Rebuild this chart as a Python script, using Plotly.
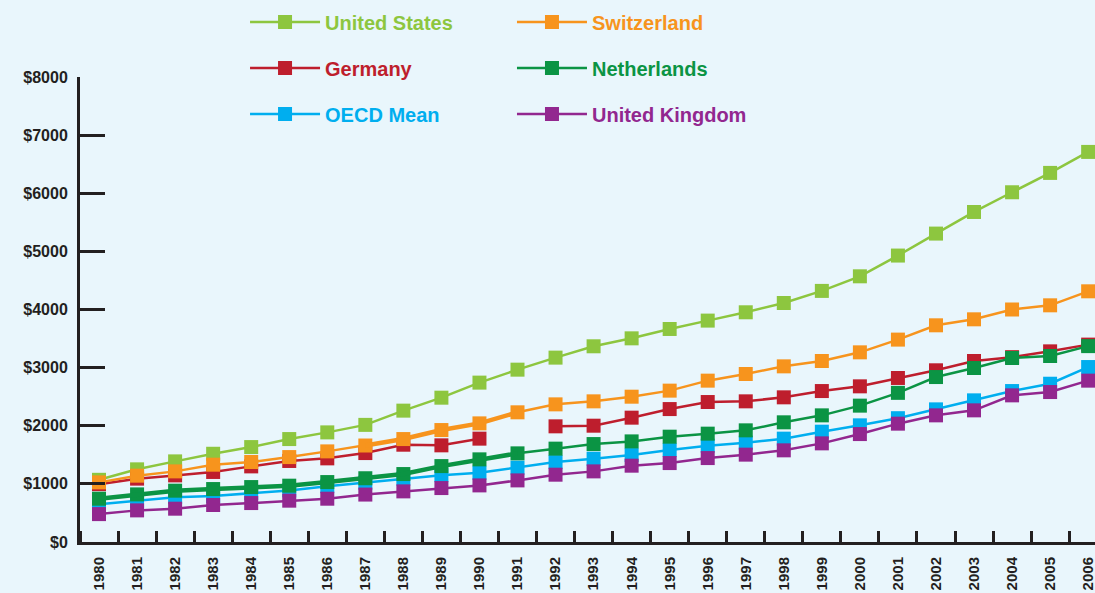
import plotly.graph_objects as go

years = list(range(1980, 2007))
year_labels = [str(y) for y in years]

us = [1070, 1250, 1387, 1518, 1633, 1771, 1886, 2015, 2260, 2483, 2742, 2965, 3172, 3367,
      3504, 3665, 3809, 3952, 4112, 4320, 4571, 4928, 5306, 5678, 6017, 6350, 6711]
switzerland = [1026, 1141, 1215, 1330, 1376, 1461, 1559, 1660, 1771, 1926, 2041, 2231, 2368, 2420,
               2500, 2604, 2776, 2890, 3022, 3114, 3263, 3482, 3728, 3831, 4000, 4072, 4313]
germany = [995, 1090, 1146, 1205, 1301, 1394, 1439, 1530, 1674, 1663, 1778, None, 1990, 2001,
           2139, 2287, 2408, 2420, 2489, 2597, 2678, 2822, 2954, 3114, 3180, 3280, 3396]
netherlands = [745, 819, 883, 911, 945, 969, 1031, 1097, 1169, 1306, 1422, 1525, 1606, 1685,
               1731, 1812, 1864, 1921, 2059, 2179, 2346, 2566, 2838, 2993, 3166, 3200, 3370]
oecd_mean = [650, 704, 770, 790, 842, 888, 960, 1020, 1090, 1150, 1190, 1279, 1375, 1433,
             1496, 1582, 1657, 1709, 1778, 1898, 2007, 2130, 2282, 2437, 2597, 2723, 3010]
uk = [480, 544, 573, 636, 670, 711, 745, 816, 871, 928, 974, 1060, 1158, 1215,
      1313, 1358, 1444, 1503, 1577, 1697, 1857, 2036, 2179, 2265, 2523, 2580, 2776]

y_ticks = [0, 1000, 2000, 3000, 4000, 5000, 6000, 7000, 8000]

# (name, values, colour, legend, rank) in drawing order
series = [
    ("United States", us, "#8dc63f", "legend", 1),
    ("Germany", germany, "#be1e2d", "legend", 2),
    ("Switzerland", switzerland, "#f7941d", "legend2", 4),
    ("OECD Mean", oecd_mean, "#00aeef", "legend", 3),
    ("Netherlands", netherlands, "#0b9444", "legend2", 5),
    ("United Kingdom", uk, "#92278f", "legend2", 6),
]

# stretches drawn with a heavier line in the original (first year, last year)
heavy = {"Switzerland": (1987, 1991), "Netherlands": (1980, 1991)}

bg = "#e9f6fc"
dark = "#231f20"
font_family = "Liberation Sans, Arial, sans-serif"

fig = go.Figure()
for name, vals, col, leg, rank in series:
    fig.add_trace(go.Scatter(
        x=years, y=vals, mode="lines+markers",
        name=f"<span style='color:{col}'><b>{name}</b></span>",
        line=dict(color=col, width=2.5),
        marker=dict(symbol="square", size=14, color=col),
        legend=leg, legendrank=rank, legendgroup=name,
        connectgaps=False,
    ))
    if name in heavy:
        a, b = heavy[name]
        i0, i1 = years.index(a), years.index(b) + 1
        fig.add_trace(go.Scatter(
            x=years[i0:i1], y=vals[i0:i1], mode="lines",
            line=dict(color=col, width=4.5),
            showlegend=False, hoverinfo="skip", legendgroup=name,
        ))

legend_style = dict(
    font=dict(family=font_family, size=20),
    bgcolor="rgba(0,0,0,0)",
    itemwidth=70,
    tracegroupgap=17,
    xanchor="left", yanchor="top",
)

fig.update_layout(
    width=1095, height=593,
    margin=dict(l=80, r=0, t=77, b=51),
    paper_bgcolor=bg, plot_bgcolor=bg,
    showlegend=True,
    legend=dict(x=0.1626, y=1.16, **legend_style),
    legend2=dict(x=0.4256, y=1.16, **legend_style),
    xaxis=dict(
        range=[1979.5, 2006.18],
        tickmode="array", tickvals=years, ticktext=year_labels,
        tickangle=-90, ticks="", ticklabelstandoff=6,
        ticklabeloverflow="allow",
        tickfont=dict(family=font_family, size=15, color=dark, weight="bold"),
        showline=True, linecolor=dark, linewidth=3,
        showgrid=False, zeroline=False,
        minor=dict(ticks="inside", tick0=1980.5, dtick=1, ticklen=11,
                   tickwidth=2.5, tickcolor=dark, showgrid=False),
    ),
    yaxis=dict(
        range=[0, 8000],
        tickmode="array", tickvals=y_ticks,
        ticktext=[f"${v}" for v in y_ticks],
        ticks="inside", ticklen=25, tickwidth=3, tickcolor=dark,
        ticklabelstandoff=6,
        tickfont=dict(family=font_family, size=16, color=dark, weight="bold"),
        showline=True, linecolor=dark, linewidth=3,
        showgrid=False, zeroline=False,
    ),
)

fig.write_html("out.html", config={"displayModeBar": False},
               post_script="document.body.style.margin='0';")
